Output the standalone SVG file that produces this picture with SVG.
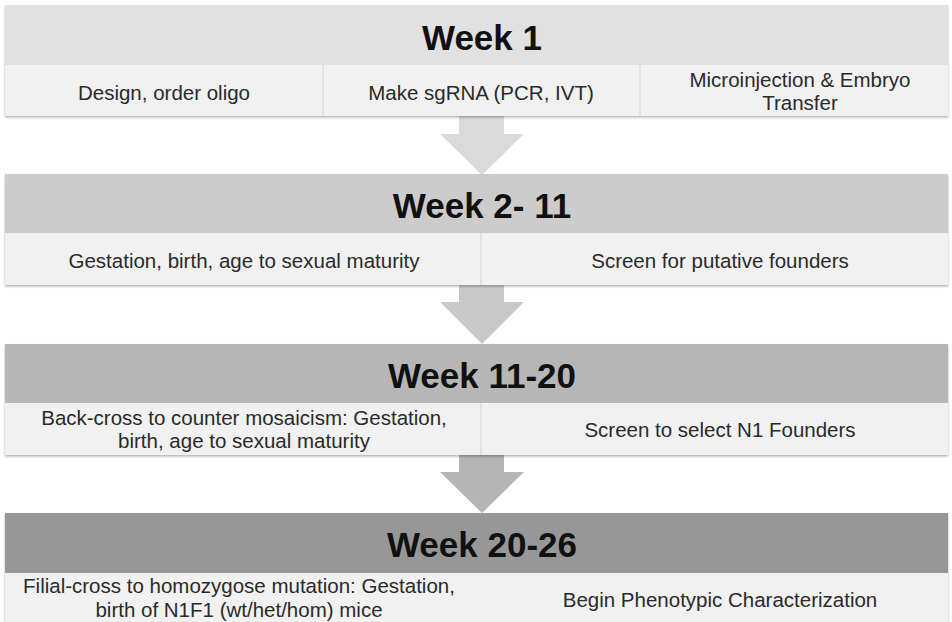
<svg xmlns="http://www.w3.org/2000/svg" width="952" height="622" viewBox="0 0 952 622">
  <defs>
    <filter id="sh" x="-5%" y="-20%" width="110%" height="140%">
      <feDropShadow dx="0" dy="1.5" stdDeviation="1.2" flood-color="#000" flood-opacity="0.3"/>
    </filter>
  </defs>
  <style>
    .hdr { font-family: "Liberation Sans", Arial, sans-serif; font-weight: bold; font-size: 35px; fill: #111; text-anchor: middle; }
    .sub { font-family: "Liberation Sans", Arial, sans-serif; font-size: 20.5px; fill: #2a2a2a; text-anchor: middle; }
    .row { fill: #f1f1f1; }
    .div { stroke: #d4d4d4; stroke-width: 1; }
  </style>
  <rect width="952" height="622" fill="#ffffff"/>

  <g id="connectors">
    <polygon points="459,116 504,116 504,134 524,134 482,175 440,134 459,134" fill="#dadada"/>
    <polygon points="459,285 504,285 504,302 524,302 482,344 440,302 459,302" fill="#c9c9c9"/>
    <polygon points="459,455 504,455 504,472 524,472 482,513 440,472 459,472" fill="#b5b5b5"/>
  </g>

  <g id="week1">
    <g filter="url(#sh)">
      <rect x="5" y="5" width="943" height="60" fill="#e1e1e1"/>
      <rect class="row" x="5" y="65" width="943" height="51"/>
    </g>
    <line class="div" x1="323" y1="65" x2="323" y2="116"/>
    <line class="div" x1="640" y1="65" x2="640" y2="116"/>
    <text class="hdr" x="482" y="50">Week 1</text>
    <text class="sub" x="164" y="100">Design, order oligo</text>
    <text class="sub" x="481" y="100">Make sgRNA (PCR, IVT)</text>
    <text class="sub" x="800" y="87">Microinjection &amp; Embryo</text>
    <text class="sub" x="800" y="110">Transfer</text>
  </g>

  <g id="week2-11">
    <g filter="url(#sh)">
      <rect x="5" y="174" width="943" height="59" fill="#cccccc"/>
      <rect class="row" x="5" y="233" width="943" height="52"/>
    </g>
    <line class="div" x1="481" y1="233" x2="481" y2="285"/>
    <text class="hdr" x="482" y="218">Week 2- 11</text>
    <text class="sub" x="244" y="268">Gestation, birth, age to sexual maturity</text>
    <text class="sub" x="720" y="268">Screen for putative founders</text>
  </g>

  <g id="week11-20">
    <g filter="url(#sh)">
      <rect x="5" y="344" width="943" height="59" fill="#b7b7b7"/>
      <rect class="row" x="5" y="403" width="943" height="52"/>
    </g>
    <line class="div" x1="481" y1="403" x2="481" y2="455"/>
    <text class="hdr" x="482" y="388">Week 11-20</text>
    <text class="sub" x="244" y="425">Back-cross to counter mosaicism: Gestation,</text>
    <text class="sub" x="244" y="448">birth, age to sexual maturity</text>
    <text class="sub" x="720" y="437">Screen to select N1 Founders</text>
  </g>

  <g id="week20-26">
    <g filter="url(#sh)">
      <rect x="5" y="513" width="943" height="60" fill="#979797"/>
      <rect class="row" x="5" y="573" width="943" height="55"/>
    </g>
    <text class="hdr" x="482" y="557">Week 20-26</text>
    <text class="sub" x="239" y="593">Filial-cross to homozygose mutation: Gestation,</text>
    <text class="sub" x="239" y="617">birth of N1F1 (wt/het/hom) mice</text>
    <text class="sub" x="720" y="607">Begin Phenotypic Characterization</text>
  </g>
</svg>
